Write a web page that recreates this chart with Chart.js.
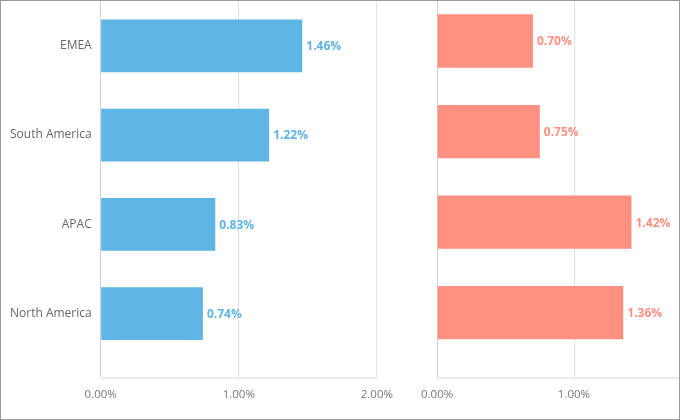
<!DOCTYPE html>
<html>
<head>
<meta charset="utf-8">
<script src="https://cdn.jsdelivr.net/npm/chart.js@4/dist/chart.umd.min.js"></script>
<style>
  html, body { margin: 0; padding: 0; background: #fff; }
  body { width: 680px; height: 420px; overflow: hidden; position: relative; }
  #leftWrap { position: absolute; left: 1px; top: -15px; width: 402px; height: 427px; }
  #rightWrap { position: absolute; left: 411px; top: -15px; width: 326px; height: 427px; }
  #frame { position: absolute; left: 0; top: 0; width: 678px; height: 418px; border: 1px solid #9a9a9a; pointer-events: none; }
</style>
</head>
<body>
<div id="leftWrap"><canvas id="left"></canvas></div>
<div id="rightWrap"><canvas id="right"></canvas></div>
<div id="frame"></div>
<script>
'use strict';

// regions, top to bottom
const regions = ['EMEA', 'South America', 'APAC', 'North America'];
// values in percent
const leftValues = [1.46, 1.22, 0.83, 0.74];
const rightValues = [0.70, 0.75, 1.42, 1.36];
const xTicks = [0, 1, 2];

const blue = '#5db4e5';
const salmon = '#ff8f80';

Chart.defaults.font.family = '"Open Sans", sans-serif';
Chart.defaults.animation = false;

// draws the value just right of each bar end
const valueLabels = {
  id: 'valueLabels',
  afterDatasetsDraw(chart) {
    const ctx = chart.ctx;
    chart.data.datasets.forEach((ds, di) => {
      const meta = chart.getDatasetMeta(di);
      ctx.save();
      ctx.font = 'bold 12px "Open Sans", sans-serif';
      ctx.fillStyle = ds.backgroundColor;
      ctx.textAlign = 'left';
      ctx.textBaseline = 'middle';
      meta.data.forEach((bar, i) => {
        ctx.fillText(ds.data[i].x.toFixed(2) + '%', bar.x + 4, bar.y + 1);
      });
      ctx.restore();
    });
  }
};

function makeChart(id, values, color, showLabels, pad) {
  const ctx = document.getElementById(id);
  return new Chart(ctx, {
    type: 'bar',
    data: {
      datasets: [{
        data: values.map((v, i) => ({ x: v, y: i })),
        backgroundColor: color,
        barPercentage: 0.59,
        categoryPercentage: 1
      }]
    },
    options: {
      indexAxis: 'y',
      responsive: true,
      maintainAspectRatio: false,
      layout: { padding: pad },
      plugins: { legend: { display: false }, tooltip: { enabled: false } },
      scales: {
        x: {
          type: 'linear',
          min: 0,
          max: 2,
          afterBuildTicks: (s) => { s.ticks = xTicks.map(v => ({ value: v })); },
          grid: {
            color: (c) => (c.tick && c.tick.value === 0 ? '#cfcfcf' : '#e3e3e3'),
            drawTicks: false
          },
          border: { display: true, color: '#ebebeb', width: 2 },
          ticks: {
            padding: 10,
            color: '#777',
            font: { size: 11.5 },
            callback: (v) => v.toFixed(2) + '%'
          }
        },
        y: {
          type: 'linear',
          reverse: true,
          offset: false,
          min: -0.5,
          max: 3.724,
          display: showLabels,
          afterBuildTicks: (s) => { s.ticks = regions.map((_, i) => ({ value: i })); },
          grid: { display: false, offset: false, drawTicks: false },
          border: { display: false },
          ticks: {
            padding: 9,
            color: '#666',
            font: { size: 12 },
            callback: (v) => regions[v]
          }
        }
      }
    },
    plugins: [valueLabels]
  });
}

makeChart('left', leftValues, blue, true, { left: 0, right: 25, top: 10.8, bottom: 0 });
makeChart('right', rightValues, salmon, false, { left: 25, right: 25, top: 10.8, bottom: 0 });
</script>
</body>
</html>
